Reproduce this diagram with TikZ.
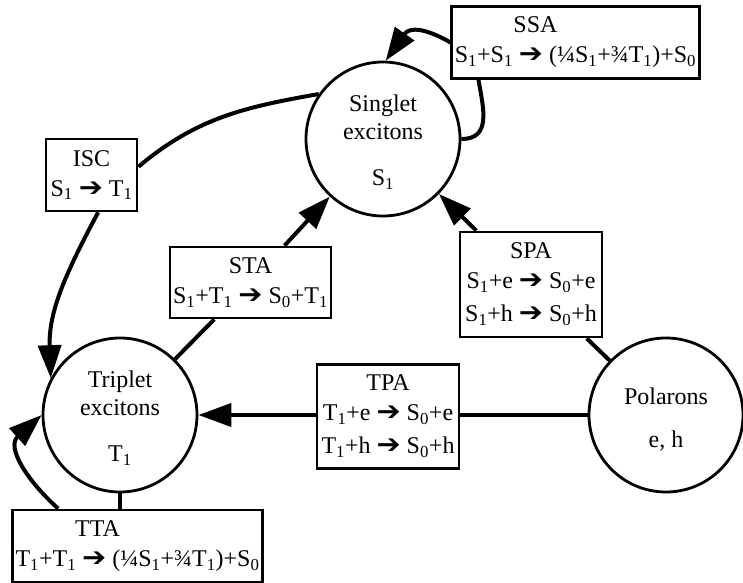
\documentclass[tikz,border=0pt]{standalone}
\usepackage{graphicx}
\usepackage{fontspec}
\setmainfont{Liberation Serif}
\newfontfamily\dingfont{DejaVu Sans}
\usetikzlibrary{arrows.meta, positioning, calc}
\newcommand{\idx}[1]{\textsubscript{#1}}
\newcommand{\goes}{{\dingfont\scalebox{1.2}[1.1]{➔}}}

\begin{document}
\begin{tikzpicture}[
    x=1pt, y=1pt,
    state/.style={circle, draw, line width=2.8pt, minimum size=154pt, inner sep=0pt, align=center, font=\fontsize{24}{28}\selectfont},
    proc/.style={draw, line width=2.8pt, fill=white, inner xsep=3pt, inner ysep=0pt, align=center, font=\fontsize{24}{30}\selectfont},
    flow/.style={line width=4pt},
    >={Triangle[length=33pt, width=23pt]}
]
    \useasboundingbox (0,0) rectangle (743,582);

    % States (circles)
    \node[state] (S) at (383,443) {\rule{0pt}{23pt}Singlet\\excitons\\[18pt]S\idx{1}};
    \node[state] (T) at (120,167) {\rule{0pt}{23pt}Triplet\\excitons\\[18pt]T\idx{1}};
    \node[state] (P) at (666,167) {\rule{0pt}{26.5pt}Polarons\\[15pt]e, h};

    % Processes (boxes)
    \node[proc, minimum width=247pt, minimum height=72pt] (SSA) at (575.5,539.5)
        {SSA\rule{80pt}{0pt}\\S\idx{1}+S\idx{1} \goes{} (¼S\idx{1}+¾T\idx{1})+S\idx{0}};
    \node[proc, minimum width=91pt, minimum height=72pt] (ISC) at (91.5,407)
        {ISC\\S\idx{1} \goes{} T\idx{1}};
    \node[proc, minimum width=159pt, minimum height=71pt] (STA) at (250.5,299.5)
        {STA\\S\idx{1}+T\idx{1} \goes{} S\idx{0}+T\idx{1}};
    \node[proc, minimum width=142pt, minimum height=105pt] (SPA) at (531,297.5)
        {SPA\\S\idx{1}+e \goes{} S\idx{0}+e\\[3pt]S\idx{1}+h \goes{} S\idx{0}+h};
    \node[proc, minimum width=142pt, minimum height=104pt] (TPA) at (388,165.5)
        {TPA\\T\idx{1}+e \goes{} S\idx{0}+e\\[3pt]T\idx{1}+h \goes{} S\idx{0}+h};
    \node[proc, minimum width=249pt, minimum height=72pt] (TTA) at (137.5,36)
        {TTA\rule{80pt}{0pt}\\T\idx{1}+T\idx{1} \goes{} (¼S\idx{1}+¾T\idx{1})+S\idx{0}};

    % Singlet loop through SSA
    \draw[flow] (S.0) .. controls +(0:30) and +(-80:30) .. ($(SSA.south west)+(28,0)$);
    \draw[flow, ->] (SSA.west) .. controls +(150:28) and +(55:42) .. (S.88);

    % Singlet to triplet through ISC
    \draw[flow] (S.145) to[out=190, in=40] (ISC.10);
    \draw[flow, ->] (ISC.-80) to[out=242, in=92] (T.152);

    % Triplet to singlet through STA
    \draw[flow] (T) -- (STA);
    \draw[flow, ->] (STA) -- (S);

    % Polarons to singlet through SPA
    \draw[flow] (P) -- (SPA);
    \draw[flow, ->] (SPA) -- (S);

    % Polarons to triplet through TPA
    \draw[flow] (P.west) -- (P.west -| TPA.east);
    \draw[flow, ->] (P.west -| TPA.west) -- (T.east);

    % Triplet loop through TTA
    \draw[flow] (T.south) -- (T.south |- TTA.north);
    \draw[flow, ->] ($(TTA.north west)+(47,0)$) .. controls +(138:42) and +(222:48) .. (T.180);
\end{tikzpicture}
\end{document}
